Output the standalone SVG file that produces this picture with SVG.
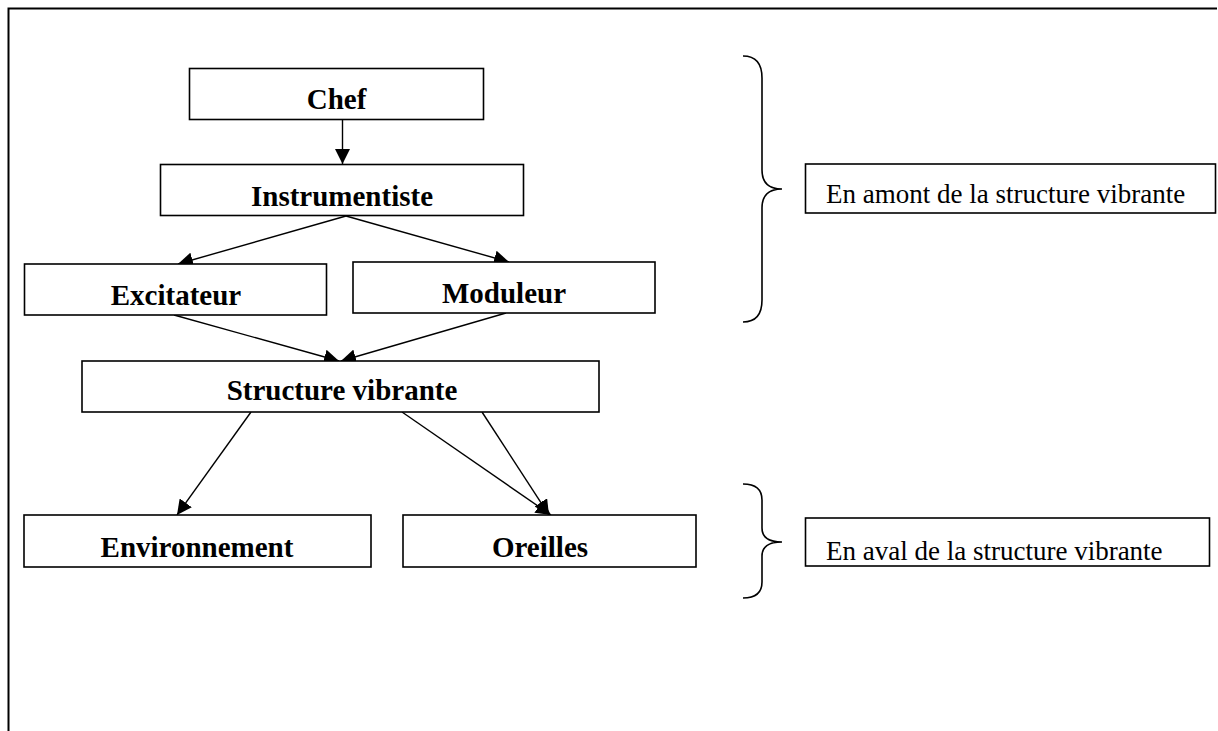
<svg xmlns="http://www.w3.org/2000/svg" width="1218" height="731" viewBox="0 0 1218 731">
<style>
.box{fill:#fff;stroke:#000;stroke-width:1.6}
.lbl{font-family:"Liberation Serif","Times New Roman",serif;font-weight:bold;font-size:29px;fill:#000;text-anchor:middle}
.note{font-family:"Liberation Serif","Times New Roman",serif;font-size:27px;fill:#000}
.edge{fill:none;stroke:#000;stroke-width:1.4;marker-end:url(#ah)}
.brace{fill:none;stroke:#000;stroke-width:1.6}
</style>
<defs>
<marker id="ah" markerUnits="userSpaceOnUse" markerWidth="15" markerHeight="15" refX="15" refY="7.5" orient="auto">
<path d="M0,0 L15,7.5 L0,15 z" fill="#000"/>
</marker>
</defs>
<rect x="0" y="0" width="1218" height="731" fill="#fff"/>
<path d="M8.5,731 L8.5,8.5 L1217,8.5" fill="none" stroke="#000" stroke-width="2"/>
<g id="connectors">
<line class="edge" x1="342.5" y1="120" x2="342.5" y2="164"/>
<line class="edge" x1="346" y1="216" x2="178" y2="264"/>
<line class="edge" x1="346" y1="216" x2="509" y2="262"/>
<line class="edge" x1="174" y1="315" x2="339" y2="361"/>
<line class="edge" x1="506" y1="313" x2="341" y2="361"/>
<line class="edge" x1="251" y1="412" x2="177" y2="515"/>
<line class="edge" x1="402" y1="412" x2="551" y2="515"/>
<line class="edge" x1="482" y1="412" x2="549" y2="515"/>
</g>
<g id="chef">
<rect class="box" x="189.5" y="68.5" width="294" height="51"/>
<text class="lbl" x="336.5" y="109">Chef</text>
</g>
<g id="instrumentiste">
<rect class="box" x="160.5" y="164.5" width="363" height="51"/>
<text class="lbl" x="342" y="206">Instrumentiste</text>
</g>
<g id="excitateur">
<rect class="box" x="24.5" y="264" width="302" height="51"/>
<text class="lbl" x="176" y="305">Excitateur</text>
</g>
<g id="moduleur">
<rect class="box" x="353" y="262" width="302" height="51"/>
<text class="lbl" x="504" y="303">Moduleur</text>
</g>
<g id="structure">
<rect class="box" x="82" y="361" width="517" height="51"/>
<text class="lbl" x="342" y="400">Structure vibrante</text>
</g>
<g id="environnement">
<rect class="box" x="24" y="515" width="347" height="52"/>
<text class="lbl" x="197" y="557">Environnement</text>
</g>
<g id="oreilles">
<rect class="box" x="403" y="515" width="293" height="52"/>
<text class="lbl" x="540" y="557">Oreilles</text>
</g>
<g id="brace-amont">
<path class="brace" d="M743,56 Q762,56 762,78 L762,170 Q762,189 782,189 Q762,189 762,208 L762,300 Q762,322 743,322"/>
</g>
<g id="amont">
<rect class="box" x="805.5" y="164" width="410" height="49"/>
<text class="note" x="826" y="203">En amont de la structure vibrante</text>
</g>
<g id="brace-aval">
<path class="brace" d="M743,484 Q762,484 762,500 L762,528 Q762,542 782,542 Q762,542 762,556 L762,582 Q762,598 743,598"/>
</g>
<g id="aval">
<rect class="box" x="805.5" y="518" width="404" height="48"/>
<text class="note" x="826" y="560">En aval de la structure vibrante</text>
</g>
</svg>
